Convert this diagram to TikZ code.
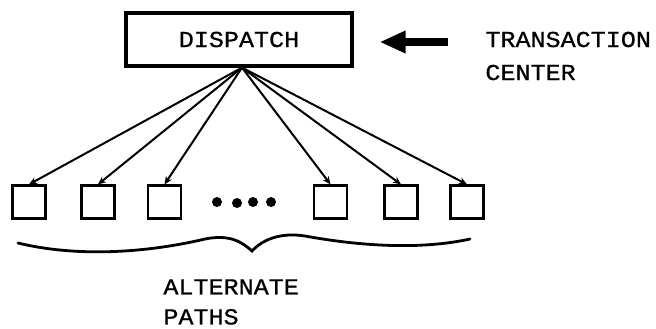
\documentclass[tikz,border=0pt]{standalone}
\usepackage{fontspec}
\setmainfont[FakeStretch=1.1,FakeBold=0.8]{Liberation Mono}
\usetikzlibrary{arrows.meta}
\tikzset{
  dispatchbox/.style={draw,line width=1.6pt,minimum width=113pt,minimum height=26.5pt,inner sep=0pt},
  pathbox/.style={draw,line width=1.1pt,minimum size=16.5pt,inner sep=0pt},
  fanline/.style={line width=1pt,-{Stealth[length=4pt,width=3.5pt]}},
  bigarrow/.style={line width=4pt,-{Triangle[length=13pt,width=10.5pt]}},
  label/.style={align=left,inner sep=0pt,anchor=west}
}
\begin{document}
\begin{tikzpicture}[x=0.5pt,y=-0.5pt,font=\fontsize{11.4}{15}\selectfont]
    \useasboundingbox (0,0) rectangle (656,328);
    \node[dispatchbox] (dispatch) at (239,39.5) {DISPATCH};
    \node[label] (center) at (485,56) {TRANSACTION\\[1.5pt]CENTER};
    \coordinate (tail) at (448,42);
    \draw[bigarrow,shorten >=13pt] (tail) -- (tail -| dispatch.east);

    % alternate paths
    \foreach \x [count=\i] in {29,98,164.5,330.5,401,467}{
    \node[pathbox] (p\i) at (\x,202) {};
    \draw[fanline] ([xshift=1.5pt]dispatch.south) -- (p\i.north);
    }
    \foreach \x/\y in {217/202,237/203,253/202,271/202}
    \fill (\x,\y) circle (2.5pt);

    % brace
    \draw[line width=1.4pt,line cap=round] (18,243) .. controls (80,258) and (150,252) .. (205,239)
      .. controls (230,234) and (242,242) .. (252,251)
      .. controls (262,240) and (280,232) .. (305,236)
      .. controls (360,246) and (420,250) .. (470,239);
    \node[label] (alt) at (163,302) {ALTERNATE\\PATHS};
\end{tikzpicture}
\end{document}
